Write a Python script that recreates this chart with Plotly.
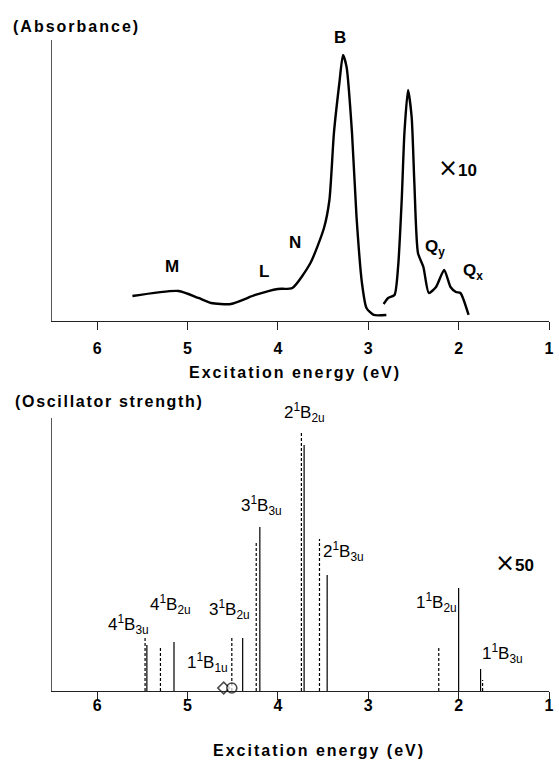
import plotly.graph_objects as go

# ---------------- data ----------------
# Absorbance spectrum (arbitrary units), main band region
abs_energy = [5.61, 5.10, 4.88, 4.74, 4.52, 4.25, 4.00, 3.84, 3.64, 3.49, 3.43, 3.38,
              3.32, 3.28, 3.24, 3.18, 3.13, 3.07, 3.02, 2.94, 2.80]
abs_value = [25, 30, 23, 18, 17, 26, 32, 33, 58, 93, 121, 188,
             238, 266, 254, 188, 104, 38, 13, 6, 6]
# Q-band region (x10)
q_energy = [2.83, 2.78, 2.71, 2.67, 2.63, 2.60, 2.56, 2.52, 2.49, 2.45, 2.39, 2.33,
            2.25, 2.16, 2.09, 2.03, 1.98, 1.89]
q_value = [17, 23, 26, 54, 121, 188, 231, 204, 138, 68, 54, 28,
           34, 51, 34, 29, 28, 6]

# Calculated oscillator strengths (arbitrary units)
solid_energy = [5.45, 5.15, 4.39, 4.20, 3.71, 3.455, 2.00, 1.757]
solid_strength = [46, 49, 53, 164, 246, 116, 103, 22]
dashed_energy = [5.47, 5.30, 4.51, 4.24, 3.74, 3.54, 2.22, 1.735]
dashed_strength = [53, 43, 54, 148, 260, 152, 44, 11]
marker_energy = [4.60, 4.51]
marker_symbol = ["diamond", "circle"]

tick_vals = [6, 5, 4, 3, 2, 1]
tick_text = ["<b>6</b>", "<b>5</b>", "<b>4</b>", "<b>3</b>", "<b>2</b>", "<b>1</b>"]

# band labels: (text, energy, height in data units)
top_labels = [("M", 5.175, 54), ("L", 4.156, 49), ("N", 3.806, 78),
              ("Q<sub>y</sub>", 2.26, 73), ("Q<sub>x</sub>", 1.84, 49)]
state_labels = [("4<sup>1</sup>B<sub>3u</sub>", 5.657, 66), ("4<sup>1</sup>B<sub>2u</sub>", 5.186, 86),
                ("3<sup>1</sup>B<sub>2u</sub>", 4.539, 81), ("1<sup>1</sup>B<sub>1u</sub>", 4.78, 29),
                ("3<sup>1</sup>B<sub>3u</sub>", 4.18, 185),
                ("2<sup>1</sup>B<sub>3u</sub>", 3.269, 139), ("1<sup>1</sup>B<sub>2u</sub>", 2.24, 88),
                ("1<sup>1</sup>B<sub>3u</sub>", 1.52, 38)]

FONT = "Liberation Sans, Arial, sans-serif"
CROSS = "<span style='font-family:DejaVu Sans;font-size:24px;font-weight:normal'>×</span>"


def sticks(xs, hs):
    x, y = [], []
    for e, h in zip(xs, hs):
        x += [e, e, None]
        y += [0, h, None]
    return x, y


fig = go.Figure()

fig.add_trace(go.Scatter(x=abs_energy, y=abs_value, mode="lines",
                         line=dict(color="black", width=2.4, shape="spline", smoothing=0.6),
                         xaxis="x", yaxis="y", showlegend=False))
fig.add_trace(go.Scatter(x=q_energy, y=q_value, mode="lines",
                         line=dict(color="black", width=2.4, shape="spline", smoothing=0.6),
                         xaxis="x", yaxis="y", showlegend=False))

sx, sy = sticks(solid_energy, solid_strength)
fig.add_trace(go.Scatter(x=sx, y=sy, mode="lines", line=dict(color="black", width=1.2),
                         xaxis="x2", yaxis="y2", showlegend=False))
dx, dy = sticks(dashed_energy, dashed_strength)
fig.add_trace(go.Scatter(x=dx, y=dy, mode="lines",
                         line=dict(color="black", width=1.2, dash="3px,2px"),
                         xaxis="x2", yaxis="y2", showlegend=False))
fig.add_trace(go.Scatter(x=marker_energy, y=[3, 3], mode="markers",
                         marker=dict(symbol=marker_symbol, size=[9, 10], color="white",
                                     line=dict(color="black", width=1.6)),
                         xaxis="x2", yaxis="y2", showlegend=False, cliponaxis=False))

axis_common = dict(range=[6.5, 1], tickvals=tick_vals, ticktext=tick_text, ticks="outside",
                   ticklen=8, tickcolor="#222", tickwidth=1, showline=True, linecolor="#222",
                   linewidth=1, showgrid=False, zeroline=False,
                   tickfont=dict(family=FONT, size=16, color="black"))
fig.update_layout(
    width=559, height=761,
    margin=dict(l=52, r=5, t=40, b=70),
    paper_bgcolor="white", plot_bgcolor="white",
    xaxis=dict(domain=[0, 1], anchor="y", ticklabelstandoff=5, **axis_common),
    yaxis=dict(domain=[0.5684, 1], range=[0, 281], showticklabels=False, ticks="",
               showline=True, linecolor="#555", linewidth=1, showgrid=False, zeroline=False),
    xaxis2=dict(domain=[0, 1], anchor="y2", ticklabelstandoff=-8, **axis_common),
    yaxis2=dict(domain=[0, 0.4194], range=[0, 273], showticklabels=False, ticks="",
                showline=True, linecolor="#555", linewidth=1, showgrid=False, zeroline=False),
)

ann = []
bold = dict(family=FONT, size=17, color="black")
for txt, e, h in top_labels:
    ann.append(dict(x=e, y=h, xref="x", yref="y", text="<b>" + txt + "</b>",
                    showarrow=False, font=bold))
# peak label just above the plot top
ann.append(dict(x=3.313, y=(691 - 38) / 651, xref="x", yref="paper", yanchor="middle",
                text="<b>B</b>", showarrow=False, font=bold))
ann.append(dict(x=2.01, y=153, xref="x", yref="y", yanchor="middle",
                text=CROSS + "<b>10</b>", showarrow=False, font=bold))
for txt, e, h in state_labels:
    ann.append(dict(x=e, y=h, xref="x2", yref="y2", text=txt, showarrow=False,
                    font=dict(family=FONT, size=17, color="black")))
ann.append(dict(x=3.707, y=(691 - 412) / 651, xref="x2", yref="paper", yanchor="middle",
                text="2<sup>1</sup>B<sub>2u</sub>", showarrow=False,
                font=dict(family=FONT, size=17, color="black")))
ann.append(dict(x=1.385, y=128, xref="x2", yref="y2", yanchor="middle",
                text=CROSS + "<b>50</b>", showarrow=False, font=bold))
ann.append(dict(x=-0.082, y=1.02, xref="paper", yref="paper", xanchor="left",
                yanchor="middle",
                text="<span style='letter-spacing:2px'><b>(Absorbance)</b></span>",
                showarrow=False, font=dict(family=FONT, size=16, color="black")))
ann.append(dict(x=-0.078, y=0.444, xref="paper", yref="paper", xanchor="left",
                yanchor="middle",
                text="<span style='letter-spacing:1.7px'><b>(Oscillator strength)</b></span>",
                showarrow=False, font=dict(family=FONT, size=16, color="black")))
ann.append(dict(x=(297 - 52) / 502, y=(691 - 372) / 651, xref="paper", yref="paper",
                yanchor="middle",
                text="<span style='letter-spacing:2px'><b>Excitation energy (eV)</b></span>",
                showarrow=False, font=dict(family=FONT, size=16, color="black")))
ann.append(dict(x=(322 - 52) / 502, y=(691 - 750) / 651, xref="paper", yref="paper",
                yanchor="middle",
                text="<span style='letter-spacing:2px'><b>Excitation energy (eV)</b></span>",
                showarrow=False, font=dict(family=FONT, size=16, color="black")))
fig.update_layout(annotations=ann)

fig.write_html("out.html", config={"displayModeBar": False},
               post_script="document.body.style.margin='0';document.body.style.overflow='hidden';")
